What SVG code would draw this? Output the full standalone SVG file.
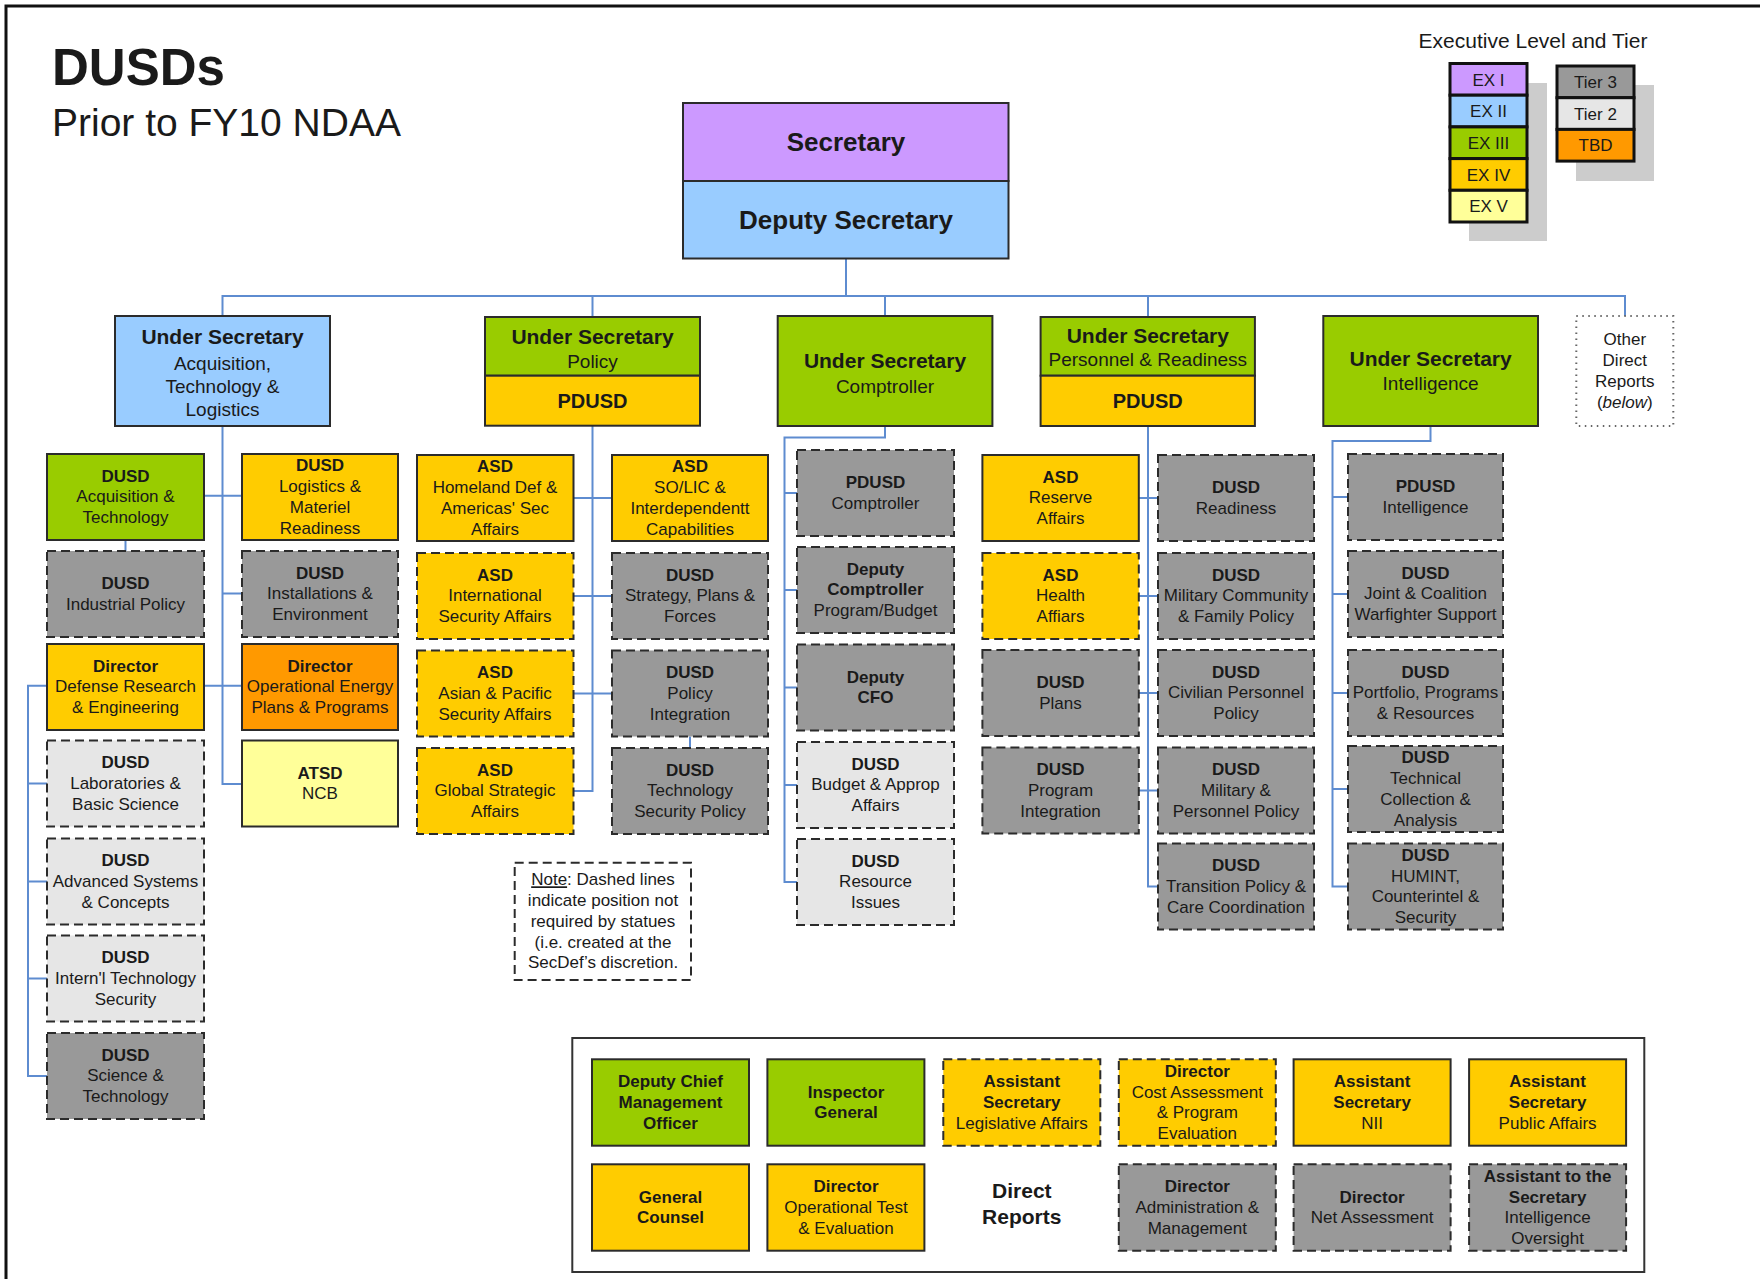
<svg xmlns="http://www.w3.org/2000/svg" width="1760" height="1279" viewBox="0 0 1760 1279">
<style>
  text { font-family: "Liberation Sans", Arial, Helvetica, sans-serif; fill: #1a1a1a; }
  .c { text-anchor: middle; font-size: 17px; }
  .b { font-weight: bold; }
  .box { stroke: #2b2b2b; stroke-width: 2; }
  .dash { stroke-dasharray: 9 5; }
  .ex1 { fill: #CC99FF; }
  .ex2 { fill: #99CCFF; }
  .ex3 { fill: #99CC00; }
  .ex4 { fill: #FFCC00; }
  .ex5 { fill: #FFFF99; }
  .t3 { fill: #999999; }
  .t2 { fill: #E6E6E6; }
  .tbd { fill: #FF9900; }
  .hdr { font-size: 21px; font-weight: bold; text-anchor: middle; }
  .big { font-size: 26px; }
  .pd { font-size: 20px; }
  .sub { font-size: 19px; text-anchor: middle; }
  .leg { stroke: #111; stroke-width: 3; }
  .conn path { fill: none; stroke: #5E8CD0; stroke-width: 2; }
</style>

<rect width="1760" height="1279" fill="#ffffff"/>
<path d="M6,1279 V6 H1760" fill="none" stroke="#111" stroke-width="3"/>

<!-- title -->
<g id="title">
  <text x="52" y="85" font-size="51" font-weight="bold">DUSDs</text>
  <text x="52" y="136" font-size="39">Prior to FY10 NDAA</text>
</g>

<!-- legend -->
<g id="legend">
  <text x="1533" y="47.5" font-size="21" text-anchor="middle">Executive Level and Tier</text>
  <rect x="1469" y="83" width="78" height="158" fill="#CCCCCC"/>
  <rect x="1576" y="85" width="78" height="96" fill="#CCCCCC"/>
  <rect class="leg ex1" x="1450" y="63.5" width="77" height="31.7"/>
  <rect class="leg ex2" x="1450" y="95.2" width="77" height="31.7"/>
  <rect class="leg ex3" x="1450" y="126.9" width="77" height="31.7"/>
  <rect class="leg ex4" x="1450" y="158.6" width="77" height="31.7"/>
  <rect class="leg ex5" x="1450" y="190.3" width="77" height="31.7"/>
  <text class="c" x="1488.5" y="85.5">EX I</text>
  <text class="c" x="1488.5" y="117.2">EX II</text>
  <text class="c" x="1488.5" y="148.9">EX III</text>
  <text class="c" x="1488.5" y="180.6">EX IV</text>
  <text class="c" x="1488.5" y="212.3">EX V</text>
  <rect class="leg t3" x="1557" y="66" width="77" height="31.7"/>
  <rect class="leg t2" x="1557" y="97.7" width="77" height="31.7"/>
  <rect class="leg tbd" x="1557" y="129.4" width="77" height="31.7"/>
  <text class="c" x="1595.5" y="88">Tier 3</text>
  <text class="c" x="1595.5" y="119.7">Tier 2</text>
  <text class="c" x="1595.5" y="151.4">TBD</text>
</g>

<!-- connectors -->
<g id="connectors" class="conn">
  <path d="M846,258 V296 M222.5,316 V296 H1625 V316 M592.5,296 V317 M885,296 V316 M1148,296 V317"/>
  <!-- AT&L -->
  <path d="M222.5,426 V784 H242 M203.6,495.7 H242 M222.5,593.6 H242 M203.6,685.7 H242 M125.5,540 V551"/>
  <path d="M47,685.7 H28 V1076 H47 M28,783.5 H47 M28,881.5 H47 M28,978.5 H47"/>
  <!-- Policy -->
  <path d="M592.5,426 V791 H573 M573,498 H612 M573,596 H612 M573,693.5 H612 M690,736.5 V748"/>
  <!-- Comptroller -->
  <path d="M885,426 V437.5 H784.5 V882 H797 M784.5,493 H797 M784.5,590 H797 M784.5,687.5 H797 M784.5,785 H797"/>
  <!-- Personnel & Readiness -->
  <path d="M1148,426 V886.5 H1158 M1139,498 H1158 M1139,596 H1158 M1139,693 H1158 M1139,790.5 H1158"/>
  <!-- Intelligence -->
  <path d="M1430.5,426 V441 H1332.5 V886.5 H1348 M1332.5,497 H1348 M1332.5,594 H1348 M1332.5,693 H1348 M1332.5,789 H1348"/>
</g>

<!-- top level -->
<g id="secretary">
  <rect class="box ex1" x="683" y="103" width="325.5" height="78"/>
  <text class="hdr big" x="846" y="151">Secretary</text>
</g>
<g id="deputy-secretary">
  <rect class="box ex2" x="683" y="181" width="325.5" height="77.5"/>
  <text class="hdr big" x="846" y="228.5">Deputy Secretary</text>
</g>

<g id="us-atl">
  <rect class="box ex2" x="115" y="316" width="215" height="110"/>
  <text class="hdr" x="222.5" y="344.3">Under Secretary</text>
  <text class="sub" x="222.5" y="370">Acquisition,</text>
  <text class="sub" x="222.5" y="393">Technology &amp;</text>
  <text class="sub" x="222.5" y="416">Logistics</text>
</g>
<g id="us-policy">
  <rect class="box ex3" x="485" y="317" width="215" height="58.7"/>
  <rect class="box ex4" x="485" y="375.7" width="215" height="50"/>
  <text class="hdr" x="592.5" y="344">Under Secretary</text>
  <text class="sub" x="592.5" y="368.2">Policy</text>
  <text class="hdr pd" x="592.5" y="407.5">PDUSD</text>
</g>
<g id="us-comptroller">
  <rect class="box ex3" x="777.7" y="316" width="214.7" height="110"/>
  <text class="hdr" x="885" y="367.5">Under Secretary</text>
  <text class="sub" x="885" y="392.5">Comptroller</text>
</g>
<g id="us-pr">
  <rect class="box ex3" x="1040.6" y="317" width="214.3" height="58.7"/>
  <rect class="box ex4" x="1040.6" y="375.7" width="214.3" height="50.3"/>
  <text class="hdr" x="1147.8" y="342.5">Under Secretary</text>
  <text class="sub" x="1147.8" y="365.7">Personnel &amp; Readiness</text>
  <text class="hdr pd" x="1147.8" y="407.5">PDUSD</text>
</g>
<g id="us-intel">
  <rect class="box ex3" x="1323.3" y="316" width="214.7" height="110"/>
  <text class="hdr" x="1430.6" y="366.4">Under Secretary</text>
  <text class="sub" x="1430.6" y="390">Intelligence</text>
</g>
<g id="other-direct-reports">
  <rect x="1576.3" y="316" width="97" height="110" fill="#fff" stroke="#666" stroke-width="2" stroke-dasharray="1.5 4.5"/>
  <text class="c" x="1624.8" y="344.6">Other</text>
  <text class="c" x="1624.8" y="365.6">Direct</text>
  <text class="c" x="1624.8" y="386.6">Reports</text>
  <text class="c" x="1624.8" y="407.6">(<tspan font-style="italic">below</tspan>)</text>
</g>

<!-- AT&L column A -->
<g id="dusd-acq-tech">
  <rect class="box ex3" x="47" y="454" width="157" height="86"/>
  <text class="c b" x="125.5" y="481.7">DUSD</text>
  <text class="c" x="125.5" y="502.4">Acquisition &amp;</text>
  <text class="c" x="125.5" y="523.1">Technology</text>
</g>
<g id="dusd-industrial-policy">
  <rect class="box dash t3" x="47" y="551" width="157" height="86"/>
  <text class="c b" x="125.5" y="589">DUSD</text>
  <text class="c" x="125.5" y="609.7">Industrial Policy</text>
</g>
<g id="dir-ddre">
  <rect class="box ex4" x="47" y="644" width="157" height="86"/>
  <text class="c b" x="125.5" y="671.7">Director</text>
  <text class="c" x="125.5" y="692.4">Defense Research</text>
  <text class="c" x="125.5" y="713.1">&amp; Engineering</text>
</g>
<g id="dusd-labs">
  <rect class="box dash t2" x="47" y="740.5" width="157" height="86"/>
  <text class="c b" x="125.5" y="768.2">DUSD</text>
  <text class="c" x="125.5" y="788.9">Laboratories &amp;</text>
  <text class="c" x="125.5" y="809.6">Basic Science</text>
</g>
<g id="dusd-adv-systems">
  <rect class="box dash t2" x="47" y="838.5" width="157" height="86"/>
  <text class="c b" x="125.5" y="866.2">DUSD</text>
  <text class="c" x="125.5" y="886.9">Advanced Systems</text>
  <text class="c" x="125.5" y="907.6">&amp; Concepts</text>
</g>
<g id="dusd-intl-tech-security">
  <rect class="box dash t2" x="47" y="935.5" width="157" height="86"/>
  <text class="c b" x="125.5" y="963.2">DUSD</text>
  <text class="c" x="125.5" y="983.9">Intern'l Technology</text>
  <text class="c" x="125.5" y="1004.6">Security</text>
</g>
<g id="dusd-sci-tech">
  <rect class="box dash t3" x="47" y="1033" width="157" height="86"/>
  <text class="c b" x="125.5" y="1060.7">DUSD</text>
  <text class="c" x="125.5" y="1081.4">Science &amp;</text>
  <text class="c" x="125.5" y="1102.1">Technology</text>
</g>

<!-- AT&L column B -->
<g id="dusd-logistics">
  <rect class="box ex4" x="242" y="454" width="156" height="86"/>
  <text class="c b" x="320" y="471.4">DUSD</text>
  <text class="c" x="320" y="492.1">Logistics &amp;</text>
  <text class="c" x="320" y="512.8">Materiel</text>
  <text class="c" x="320" y="533.5">Readiness</text>
</g>
<g id="dusd-installations">
  <rect class="box dash t3" x="242" y="551" width="156" height="86"/>
  <text class="c b" x="320" y="578.7">DUSD</text>
  <text class="c" x="320" y="599.4">Installations &amp;</text>
  <text class="c" x="320" y="620.1">Environment</text>
</g>
<g id="dir-op-energy">
  <rect class="box tbd" x="242" y="644" width="156" height="86"/>
  <text class="c b" x="320" y="671.7">Director</text>
  <text class="c" x="320" y="692.4">Operational Energy</text>
  <text class="c" x="320" y="713.1">Plans &amp; Programs</text>
</g>
<g id="atsd-ncb">
  <rect class="box ex5" x="242" y="740.5" width="156" height="86"/>
  <text class="c b" x="320" y="778.5">ATSD</text>
  <text class="c" x="320" y="799.2">NCB</text>
</g>

<!-- Policy column C -->
<g id="asd-homeland">
  <rect class="box ex4" x="417" y="455" width="156.5" height="86"/>
  <text class="c b" x="495" y="472.4">ASD</text>
  <text class="c" x="495" y="493.1">Homeland Def &amp;</text>
  <text class="c" x="495" y="513.8">Americas' Sec</text>
  <text class="c" x="495" y="534.5">Affairs</text>
</g>
<g id="asd-isa">
  <rect class="box dash ex4" x="417" y="553" width="156.5" height="86"/>
  <text class="c b" x="495" y="580.7">ASD</text>
  <text class="c" x="495" y="601.4">International</text>
  <text class="c" x="495" y="622.1">Security Affairs</text>
</g>
<g id="asd-apsa">
  <rect class="box dash ex4" x="417" y="650.5" width="156.5" height="86"/>
  <text class="c b" x="495" y="678.2">ASD</text>
  <text class="c" x="495" y="698.9">Asian &amp; Pacific</text>
  <text class="c" x="495" y="719.6">Security Affairs</text>
</g>
<g id="asd-gsa">
  <rect class="box dash ex4" x="417" y="748" width="156.5" height="86"/>
  <text class="c b" x="495" y="775.7">ASD</text>
  <text class="c" x="495" y="796.4">Global Strategic</text>
  <text class="c" x="495" y="817.1">Affairs</text>
</g>

<!-- Policy column D -->
<g id="asd-solic">
  <rect class="box ex4" x="612" y="455" width="156" height="86"/>
  <text class="c b" x="690" y="472.4">ASD</text>
  <text class="c" x="690" y="493.1">SO/LIC &amp;</text>
  <text class="c" x="690" y="513.8">Interdependentt</text>
  <text class="c" x="690" y="534.5">Capabilities</text>
</g>
<g id="dusd-strategy">
  <rect class="box dash t3" x="612" y="553" width="156" height="86"/>
  <text class="c b" x="690" y="580.7">DUSD</text>
  <text class="c" x="690" y="601.4">Strategy, Plans &amp;</text>
  <text class="c" x="690" y="622.1">Forces</text>
</g>
<g id="dusd-policy-integration">
  <rect class="box dash t3" x="612" y="650.5" width="156" height="86"/>
  <text class="c b" x="690" y="678.2">DUSD</text>
  <text class="c" x="690" y="698.9">Policy</text>
  <text class="c" x="690" y="719.6">Integration</text>
</g>
<g id="dusd-tech-security">
  <rect class="box dash t3" x="612" y="748" width="156" height="86"/>
  <text class="c b" x="690" y="775.7">DUSD</text>
  <text class="c" x="690" y="796.4">Technology</text>
  <text class="c" x="690" y="817.1">Security Policy</text>
</g>

<!-- Comptroller column E -->
<g id="pdusd-comptroller">
  <rect class="box dash t3" x="797" y="450" width="157" height="86"/>
  <text class="c b" x="875.5" y="488">PDUSD</text>
  <text class="c" x="875.5" y="508.7">Comptroller</text>
</g>
<g id="deputy-comptroller">
  <rect class="box dash t3" x="797" y="547" width="157" height="86"/>
  <text class="c b" x="875.5" y="574.7">Deputy</text>
  <text class="c b" x="875.5" y="595.4">Comptroller</text>
  <text class="c" x="875.5" y="616.1">Program/Budget</text>
</g>
<g id="deputy-cfo">
  <rect class="box dash t3" x="797" y="644.5" width="157" height="86"/>
  <text class="c b" x="875.5" y="682.5">Deputy</text>
  <text class="c b" x="875.5" y="703.2">CFO</text>
</g>
<g id="dusd-budget">
  <rect class="box dash t2" x="797" y="742" width="157" height="86"/>
  <text class="c b" x="875.5" y="769.7">DUSD</text>
  <text class="c" x="875.5" y="790.4">Budget &amp; Approp</text>
  <text class="c" x="875.5" y="811.1">Affairs</text>
</g>
<g id="dusd-resource">
  <rect class="box dash t2" x="797" y="839" width="157" height="86"/>
  <text class="c b" x="875.5" y="866.7">DUSD</text>
  <text class="c" x="875.5" y="887.4">Resource</text>
  <text class="c" x="875.5" y="908.1">Issues</text>
</g>

<!-- P&R column F -->
<g id="asd-reserve">
  <rect class="box ex4" x="982.4" y="455" width="156.4" height="86"/>
  <text class="c b" x="1060.5" y="482.7">ASD</text>
  <text class="c" x="1060.5" y="503.4">Reserve</text>
  <text class="c" x="1060.5" y="524.1">Affairs</text>
</g>
<g id="asd-health">
  <rect class="box dash ex4" x="982.4" y="553" width="156.4" height="86"/>
  <text class="c b" x="1060.5" y="580.7">ASD</text>
  <text class="c" x="1060.5" y="601.4">Health</text>
  <text class="c" x="1060.5" y="622.1">Affiars</text>
</g>
<g id="dusd-plans">
  <rect class="box dash t3" x="982.4" y="650" width="156.4" height="86"/>
  <text class="c b" x="1060.5" y="688">DUSD</text>
  <text class="c" x="1060.5" y="708.7">Plans</text>
</g>
<g id="dusd-program-integration">
  <rect class="box dash t3" x="982.4" y="747.5" width="156.4" height="86"/>
  <text class="c b" x="1060.5" y="775.2">DUSD</text>
  <text class="c" x="1060.5" y="795.9">Program</text>
  <text class="c" x="1060.5" y="816.6">Integration</text>
</g>

<!-- P&R column G -->
<g id="dusd-readiness">
  <rect class="box dash t3" x="1158" y="455" width="156" height="86"/>
  <text class="c b" x="1236" y="493">DUSD</text>
  <text class="c" x="1236" y="513.7">Readiness</text>
</g>
<g id="dusd-mil-community">
  <rect class="box dash t3" x="1158" y="553" width="156" height="86"/>
  <text class="c b" x="1236" y="580.7">DUSD</text>
  <text class="c" x="1236" y="601.4">Military Community</text>
  <text class="c" x="1236" y="622.1">&amp; Family Policy</text>
</g>
<g id="dusd-civilian">
  <rect class="box dash t3" x="1158" y="650" width="156" height="86"/>
  <text class="c b" x="1236" y="677.7">DUSD</text>
  <text class="c" x="1236" y="698.4">Civilian Personnel</text>
  <text class="c" x="1236" y="719.1">Policy</text>
</g>
<g id="dusd-mil-personnel">
  <rect class="box dash t3" x="1158" y="747.5" width="156" height="86"/>
  <text class="c b" x="1236" y="775.2">DUSD</text>
  <text class="c" x="1236" y="795.9">Military &amp;</text>
  <text class="c" x="1236" y="816.6">Personnel Policy</text>
</g>
<g id="dusd-transition">
  <rect class="box dash t3" x="1158" y="843.5" width="156" height="86"/>
  <text class="c b" x="1236" y="871.2">DUSD</text>
  <text class="c" x="1236" y="891.9">Transition Policy &amp;</text>
  <text class="c" x="1236" y="912.6">Care Coordination</text>
</g>

<!-- Intelligence column H -->
<g id="pdusd-intel">
  <rect class="box dash t3" x="1348" y="454" width="155" height="86"/>
  <text class="c b" x="1425.5" y="492">PDUSD</text>
  <text class="c" x="1425.5" y="512.7">Intelligence</text>
</g>
<g id="dusd-joint-coalition">
  <rect class="box dash t3" x="1348" y="551" width="155" height="86"/>
  <text class="c b" x="1425.5" y="578.7">DUSD</text>
  <text class="c" x="1425.5" y="599.4">Joint &amp; Coalition</text>
  <text class="c" x="1425.5" y="620.1">Warfighter Support</text>
</g>
<g id="dusd-portfolio">
  <rect class="box dash t3" x="1348" y="650" width="155" height="86"/>
  <text class="c b" x="1425.5" y="677.7">DUSD</text>
  <text class="c" x="1425.5" y="698.4">Portfolio, Programs</text>
  <text class="c" x="1425.5" y="719.1">&amp; Resources</text>
</g>
<g id="dusd-tech-collection">
  <rect class="box dash t3" x="1348" y="746" width="155" height="86"/>
  <text class="c b" x="1425.5" y="763.4">DUSD</text>
  <text class="c" x="1425.5" y="784.1">Technical</text>
  <text class="c" x="1425.5" y="804.8">Collection &amp;</text>
  <text class="c" x="1425.5" y="825.5">Analysis</text>
</g>
<g id="dusd-humint">
  <rect class="box dash t3" x="1348" y="843.5" width="155" height="86"/>
  <text class="c b" x="1425.5" y="860.9">DUSD</text>
  <text class="c" x="1425.5" y="881.6">HUMINT,</text>
  <text class="c" x="1425.5" y="902.3">Counterintel &amp;</text>
  <text class="c" x="1425.5" y="923">Security</text>
</g>

<!-- note -->
<g id="note">
  <rect x="514.7" y="862.7" width="176.3" height="117.3" fill="#fff" stroke="#2b2b2b" stroke-width="2" stroke-dasharray="9 5"/>
  <text class="c" x="603" y="885.3"><tspan text-decoration="underline">Note</tspan>: Dashed lines</text>
  <text class="c" x="603" y="906.3">indicate position not</text>
  <text class="c" x="603" y="927">required by statues</text>
  <text class="c" x="603" y="947.7">(i.e. created at the</text>
  <text class="c" x="603" y="968.3">SecDef’s discretion.</text>
</g>

<!-- direct reports panel -->
<g id="direct-reports">
  <rect x="572.3" y="1038" width="1072" height="234" fill="#fff" stroke="#333" stroke-width="2"/>
  <text class="hdr" x="1021.8" y="1198">Direct</text>
  <text class="hdr" x="1021.8" y="1224">Reports</text>
</g>
<g id="dcmo">
  <rect class="box ex3" x="592" y="1059.3" width="157" height="86.4"/>
  <text class="c b" x="670.5" y="1087.2">Deputy Chief</text>
  <text class="c b" x="670.5" y="1107.9">Management</text>
  <text class="c b" x="670.5" y="1128.6">Officer</text>
</g>
<g id="inspector-general">
  <rect class="box ex3" x="767.4" y="1059.3" width="157" height="86.4"/>
  <text class="c b" x="846" y="1097.5">Inspector</text>
  <text class="c b" x="846" y="1118.2">General</text>
</g>
<g id="as-legislative">
  <rect class="box dash ex4" x="943.3" y="1059.3" width="157" height="86.4"/>
  <text class="c b" x="1021.8" y="1087.2">Assistant</text>
  <text class="c b" x="1021.8" y="1107.9">Secretary</text>
  <text class="c" x="1021.8" y="1128.6">Legislative Affairs</text>
</g>
<g id="dir-cape">
  <rect class="box dash ex4" x="1118.8" y="1059.3" width="157" height="86.4"/>
  <text class="c b" x="1197.3" y="1076.9">Director</text>
  <text class="c" x="1197.3" y="1097.6">Cost Assessment</text>
  <text class="c" x="1197.3" y="1118.3">&amp; Program</text>
  <text class="c" x="1197.3" y="1139">Evaluation</text>
</g>
<g id="as-nii">
  <rect class="box ex4" x="1293.6" y="1059.3" width="157" height="86.4"/>
  <text class="c b" x="1372.1" y="1087.2">Assistant</text>
  <text class="c b" x="1372.1" y="1107.9">Secretary</text>
  <text class="c" x="1372.1" y="1128.6">NII</text>
</g>
<g id="as-public-affairs">
  <rect class="box ex4" x="1469.1" y="1059.3" width="157" height="86.4"/>
  <text class="c b" x="1547.6" y="1087.2">Assistant</text>
  <text class="c b" x="1547.6" y="1107.9">Secretary</text>
  <text class="c" x="1547.6" y="1128.6">Public Affairs</text>
</g>
<g id="general-counsel">
  <rect class="box ex4" x="592" y="1164.3" width="157" height="86.4"/>
  <text class="c b" x="670.5" y="1202.5">General</text>
  <text class="c b" x="670.5" y="1223.2">Counsel</text>
</g>
<g id="dir-ote">
  <rect class="box ex4" x="767.4" y="1164.3" width="157" height="86.4"/>
  <text class="c b" x="846" y="1192.2">Director</text>
  <text class="c" x="846" y="1212.9">Operational Test</text>
  <text class="c" x="846" y="1233.6">&amp; Evaluation</text>
</g>
<g id="dir-admin-mgmt">
  <rect class="box dash t3" x="1118.8" y="1164.3" width="157" height="86.4"/>
  <text class="c b" x="1197.3" y="1192.2">Director</text>
  <text class="c" x="1197.3" y="1212.9">Administration &amp;</text>
  <text class="c" x="1197.3" y="1233.6">Management</text>
</g>
<g id="dir-net-assessment">
  <rect class="box dash t3" x="1293.6" y="1164.3" width="157" height="86.4"/>
  <text class="c b" x="1372.1" y="1202.5">Director</text>
  <text class="c" x="1372.1" y="1223.2">Net Assessment</text>
</g>
<g id="atsd-intel-oversight">
  <rect class="box dash t3" x="1469.1" y="1164.3" width="157" height="86.4"/>
  <text class="c b" x="1547.6" y="1182">Assistant to the</text>
  <text class="c b" x="1547.6" y="1202.7">Secretary</text>
  <text class="c" x="1547.6" y="1223.4">Intelligence</text>
  <text class="c" x="1547.6" y="1244.1">Oversight</text>
</g>
</svg>
